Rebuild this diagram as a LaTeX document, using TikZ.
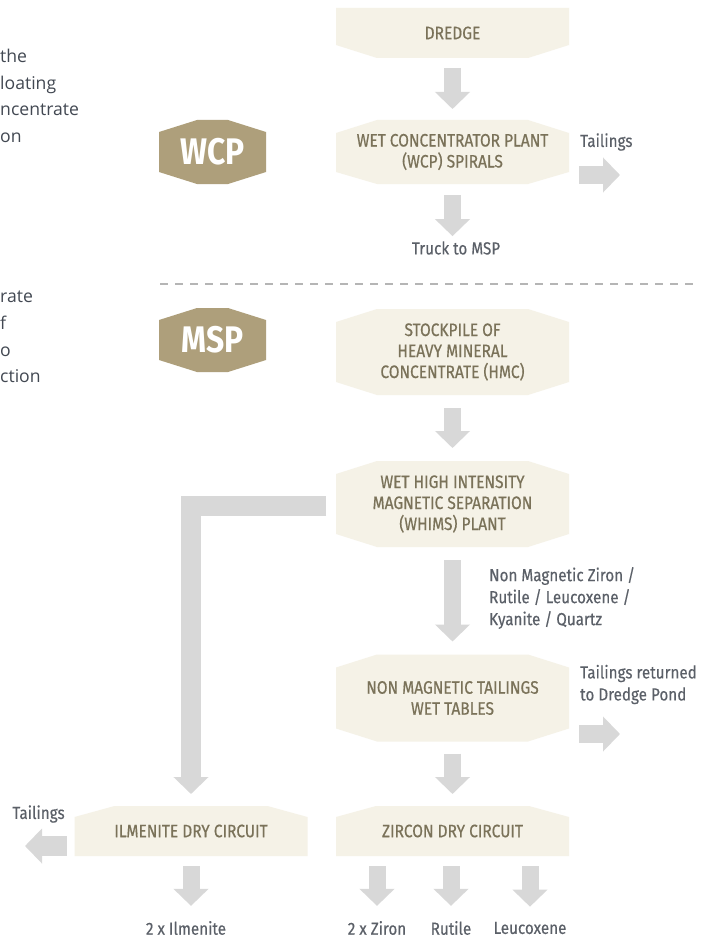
\documentclass[tikz,border=0pt]{standalone}
\usepackage{fontspec}
\usetikzlibrary{arrows.meta,calc,backgrounds}
\newfontfamily\boxfont[FakeStretch=0.86,FakeBold=0.6]{Fira Sans}
\newfontfamily\badgefont[FakeStretch=0.86]{Fira Sans}
\newfontfamily\notefont[FakeStretch=0.87,FakeBold=0.3]{Fira Sans}
\newfontfamily\sidefont{Open Sans}
\definecolor{cream}{HTML}{F5F2E7}
\definecolor{boxtext}{HTML}{7A7259}
\definecolor{badgecol}{HTML}{AE9F7B}
\definecolor{arrowgray}{HTML}{D8D8D8}
\definecolor{notegray}{HTML}{5B6068}
\definecolor{dashgray}{HTML}{B5B5B5}
\definecolor{sidegray}{HTML}{424852}
% name, colour, top depth, top inset, bottom depth, bottom inset
\newcommand\chbox[6]{%
  \fill[#2] ($(#1.north west)+(0pt,-#3pt)$) -- ($(#1.north west)+(#4pt,0pt)$)
    -- ($(#1.north east)+(-#4pt,0pt)$) -- ($(#1.north east)+(0pt,-#3pt)$)
    -- ($(#1.south east)+(0pt,#5pt)$) -- ($(#1.south east)+(-#6pt,0pt)$)
    -- ($(#1.south west)+(#6pt,0pt)$) -- ($(#1.south west)+(0pt,#5pt)$) -- cycle;}
\tikzset{
  stage/.style={minimum width=233pt, inner sep=0pt, outer sep=0pt, align=center,
    text=boxtext, font=\boxfont\fontsize{18}{21}\selectfont},
  badge/.style={minimum width=107pt, minimum height=64pt, inner sep=0pt, outer sep=0pt,
    text=white, font=\badgefont\bfseries\fontsize{37}{40}\selectfont},
  note/.style={inner sep=0pt, text=notegray, font=\notefont\fontsize{17.5}{22}\selectfont},
  side/.style={inner sep=0pt, text=sidegray, align=left, font=\sidefont\fontsize{17.6}{26.7}\selectfont},
  fat/.style={draw=arrowgray, line width=17pt, -{Triangle[width=34pt,length=17pt]}},
}
\begin{document}
\begin{tikzpicture}[x=1pt,y=-1pt]
\useasboundingbox (0,0) rectangle (717,939);

% side texts (cut off at the left edge)
\node[side, anchor=west] (side1) at (0,96) {the\\loating\\ncentrate\\on};
\node[side, anchor=west] (side2) at (0,337) {rate\\f\\o\\ction};

% badges
\node[badge] (wcpb) at (212.5,152) {WCP};
\node[badge] (mspb) at (212.5,340) {MSP};

% stages
\node[stage, minimum height=50pt] (dredge) at (452.5,33) {DREDGE};
\node[stage, minimum height=64pt] (wcp) at (452.5,152) {WET CONCENTRATOR PLANT\\(WCP) SPIRALS};
\node[stage, minimum height=86pt] (hmc) at (452.5,352) {STOCKPILE OF\\HEAVY MINERAL\\CONCENTRATE (HMC)};
\node[stage, minimum height=86pt] (whims) at (452.5,504) {WET HIGH INTENSITY\\MAGNETIC SEPARATION\\(WHIMS) PLANT};
\node[stage, minimum height=87pt] (wettab) at (452.5,698) {NON MAGNETIC TAILINGS\\WET TABLES};
\node[stage, minimum height=50pt] (ilm) at (191,831) {ILMENITE DRY CIRCUIT};
\node[stage, minimum height=50pt] (zrc) at (452.5,831) {ZIRCON DRY CIRCUIT};

\begin{scope}[on background layer]
  \fill[white] (0,0) rectangle (717,939);
  \chbox{wcpb}{badgecol}{12}{38}{12}{38}
  \chbox{mspb}{badgecol}{12}{38}{12}{38}
  \chbox{dredge}{cream}{0}{0}{13}{41}
  \chbox{wcp}{cream}{13}{41}{12}{41}
  \chbox{hmc}{cream}{13}{41}{13}{41}
  \chbox{whims}{cream}{13}{41}{13}{41}
  \chbox{wettab}{cream}{13}{41}{13}{41}
  \chbox{ilm}{cream}{11}{40}{0}{0}
  \chbox{zrc}{cream}{11}{40}{0}{0}
\end{scope}

% notes
\node[note, anchor=west] (tail1) at (580,142) {Tailings};
\node[note] (truck) at (456,248) {Truck to MSP};
\node[note, anchor=west, align=left] (nonmag) at (489,598) {Non Magnetic Ziron /\\Rutile / Leucoxene /\\Kyanite / Quartz};
\node[note, anchor=west, align=left] (tail2) at (580,684.5) {Tailings returned\\to Dredge Pond};
\node[note] (tail3) at (38.5,814) {Tailings};
\node[note] (out1) at (186,928) {2 x Ilmenite};
\node[note] (out2) at (377,928) {2 x Ziron};
\node[note] (out3) at (451,928) {Rutile};
\node[note] (out4) at (530,928) {Leucoxene};

% free ends
\coordinate (t1) at (620,175);
\coordinate (t2) at (620,734);
\coordinate (t3) at (25,846);

% separator
\draw[dashgray, line width=1.8pt, dash pattern=on 8pt off 7pt] (160,284) -- (695,284);

% connectors
\draw[fat] ($(dredge.south)+(0,10)$) -- ($(wcp.north)+(0,-11)$);
\draw[fat] ($(wcp.south)+(0,11)$) -- ($(truck.north -| wcp.south)+(0,-5)$);
\draw[fat, line width=18pt] ($(wcp.east)+(10,23)$) -- (t1);
\draw[fat] ($(hmc.south)+(0,13)$) -- ($(whims.north)+(0,-13)$);
\draw[fat] ($(whims.south)+(0,13)$) -- ($(wettab.north)+(0,-13)$);
\draw[fat, line width=18pt] ($(wettab.east)+(10,36)$) -- (t2);
\draw[fat] ($(wettab.south)+(0,12)$) -- ($(zrc.north)+(0,-12)$);
\draw[fat, line width=20pt, line join=miter] ($(whims.west)+(-10,2)$) -| ($(ilm.north)+(0,-12)$);
\draw[fat, line width=20pt] ($(ilm.west)+(-8,15)$) -- (t3);
\draw[fat] ($(ilm.south)+(0,10)$) -- ($(out1.north -| ilm.south)+(0,-15)$);
\draw[fat] ($(zrc.south -| out2.north)+(0,10)$) -- ($(out2.north)+(0,-15)$);
\draw[fat] ($(zrc.south -| out3.north)+(0,10)$) -- ($(out3.north)+(0,-15)$);
\draw[fat] ($(zrc.south -| out4.north)+(0,10)$) -- ($(out4.north)+(0,-15)$);
\end{tikzpicture}
\end{document}
